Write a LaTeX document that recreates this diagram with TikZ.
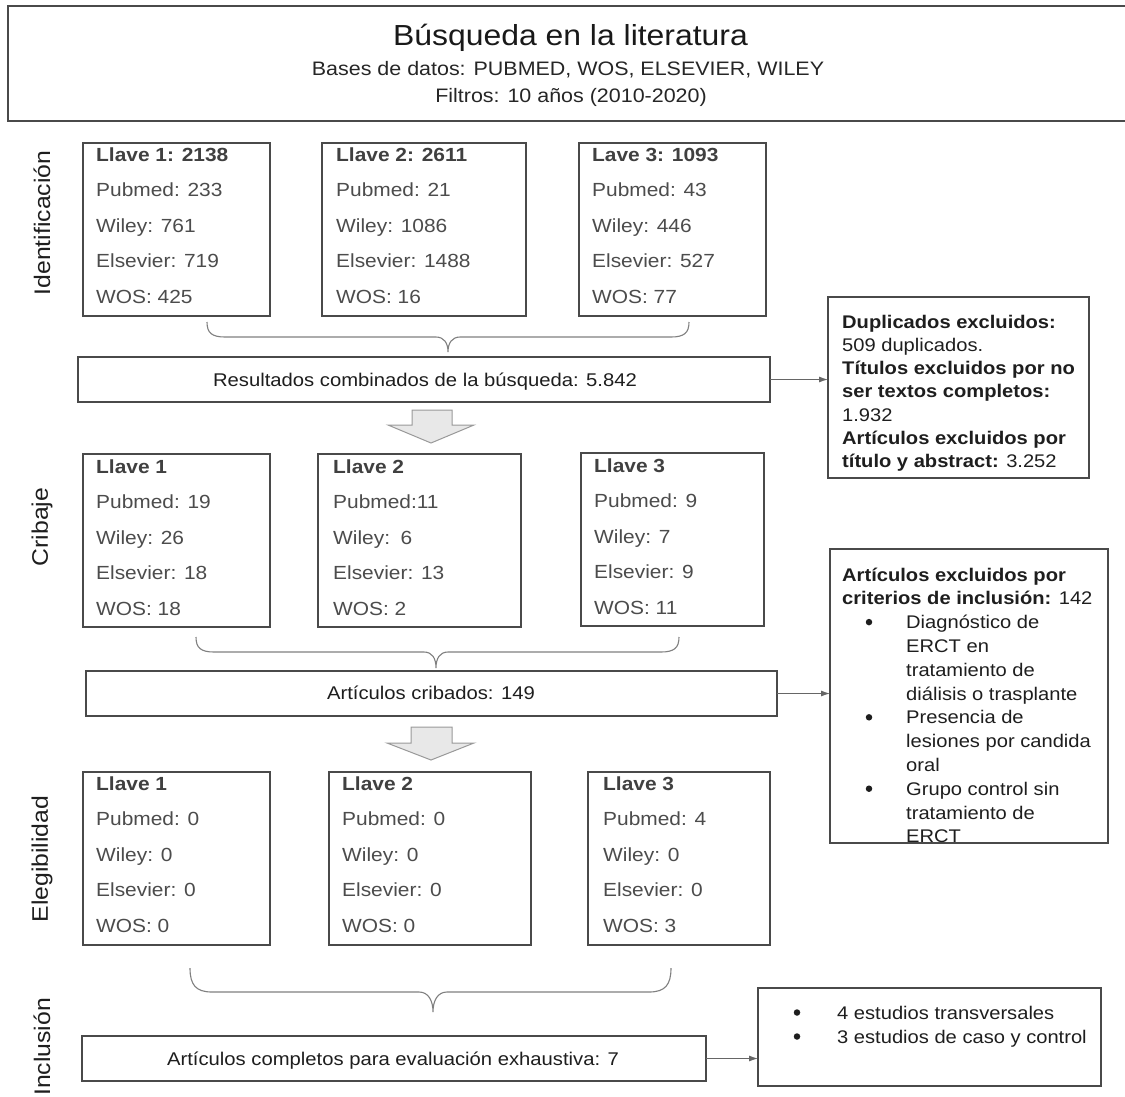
\documentclass[tikz,border=0pt]{standalone}
\usepackage{fontspec}
\setmainfont{Liberation Sans}[FakeStretch=1.1]
\usetikzlibrary{arrows.meta}
\definecolor{boxc}{HTML}{4A4A4A}
\definecolor{txtc}{HTML}{4C4C4C}
\definecolor{hdc}{HTML}{404040}
\definecolor{darkc}{HTML}{1E1E1E}
\newcommand\fs[2]{\fontsize{#1}{#2}\selectfont}
\newcommand\keybox[8]{%
  \node[txt,text=hdc,font=\fs{19}{22}\bfseries] (#1a) at (#2,#3) {#4};
  \node[txt] (#1b) at (#2,#3+35.5) {#5};
  \node[txt] (#1c) at (#2,#3+71) {#6};
  \node[txt] (#1d) at (#2,#3+106.5) {#7};
  \node[txt] (#1e) at (#2,#3+142) {#8};}
\newcommand\mybox[5]{\node[box,minimum width={#4pt-#2pt},minimum height={#5pt-#3pt}] (#1) at (#2,#3) {};}
\begin{document}
\begin{tikzpicture}[x=1pt,y=-1pt,
  box/.style={draw=boxc,line width=1.3pt,inner sep=0pt,outer sep=0pt,anchor=north west},
  txt/.style={anchor=base west,inner sep=0pt,text=txtc,font=\fs{19}{22}},
  stxt/.style={anchor=base west,inner sep=0pt,text=darkc,font=\fs{18.3}{22}},
  ctxt/.style={anchor=base,inner sep=0pt,text=darkc,font=\fs{18.4}{22}},
  side/.style={rotate=90,inner sep=0pt,text=darkc,font=\fs{22.5}{24}},
  bul/.style={circle,fill=darkc,inner sep=0pt,minimum size=6.5pt},
  conn/.style={draw=black!60,line width=1pt,-{Latex[length=9pt,width=6pt]}},
  brace/.style={draw=black!50,line width=1.1pt},
  blk/.style={draw=black!40,fill=black!9,line width=1pt,line join=miter}]
\useasboundingbox (0,0) rectangle (1125,1096);
\fill[white] (0,0) rectangle (1125,1096);

% title
\mybox{tb}{8}{6}{1135}{121}
\node[anchor=base,inner sep=0pt,text=black!90,font=\fs{29}{32}] (title) at (570.5,45) {Búsqueda en la literatura};
\node[anchor=base,inner sep=0pt,text=black!85,font=\fs{19.5}{22}] (sub1) at (568,75) {Bases de datos: PUBMED, WOS, ELSEVIER, WILEY};
\node[anchor=base,inner sep=0pt,text=black!85,font=\fs{19.5}{22}] (sub2) at (571,102) {Filtros: 10 años (2010-2020)};

% side labels
\node[side] (lid) at (42,223) {Identificación};
\node[side] (lcr) at (42,527) {Cribaje};
\node[side] (lel) at (42,859) {Elegibilidad};
\node[side] (lin) at (42,1047) {Inclusión};

% identification
\mybox{i1}{83}{143}{270}{316}
\mybox{i2}{322}{143}{526}{316}
\mybox{i3}{579}{143}{766}{316}
\keybox{ia}{96}{161}{Llave 1: 2138}{Pubmed: 233}{Wiley: 761}{Elsevier: 719}{WOS: 425}
\keybox{ib}{336}{161}{Llave 2: 2611}{Pubmed: 21}{Wiley: 1086}{Elsevier: 1488}{WOS: 16}
\keybox{ic}{592}{161}{Lave 3: 1093}{Pubmed: 43}{Wiley: 446}{Elsevier: 527}{WOS: 77}

\draw[brace] (207,322) .. controls (207,333) and (212,337) .. (225,337) -- (436,337)
  .. controls (444,337) and (448,343) .. (448,352) .. controls (448,343) and (452,337) .. (460,337)
  -- (671,337) .. controls (684,337) and (689,333) .. (689,322);

\mybox{comb}{78}{357}{770}{402}
\node[ctxt] (combt) at (425,386) {Resultados combinados de la búsqueda: 5.842};

\mybox{ex1}{828}{297}{1089}{478}
\foreach \t [count=\k from 0] in {{\bfseries Duplicados excluidos:},{509 duplicados.},{\bfseries Títulos excluidos por no},{\bfseries ser textos completos:},{1.932},{\bfseries Artículos excluidos por},{\textbf{título y abstract:} 3.252}}
  \node[stxt] (exa\k) at (842,328+23.3*\k) {\t};
\draw[conn] (comb.east) -- (comb.east -| ex1.west);

\draw[blk] (412,410) -- (452,410) -- (452,425) -- (474,425) -- (431,443) -- (388,425) -- (412,425) -- cycle;

% screening
\mybox{c1}{83}{454}{270}{627}
\mybox{c2}{318}{454}{521}{627}
\mybox{c3}{581}{453}{764}{626}
\keybox{ca}{96}{473}{Llave 1}{Pubmed: 19}{Wiley: 26}{Elsevier: 18}{WOS: 18}
\keybox{cb}{333}{473}{Llave 2}{Pubmed:11}{Wiley:\hspace{0.55em}6}{Elsevier: 13}{WOS: 2}
\keybox{cc}{594}{472}{Llave 3}{Pubmed: 9}{Wiley: 7}{Elsevier: 9}{WOS: 11}

\draw[brace] (196,637) .. controls (196,648) and (201,652) .. (214,652) -- (424,652)
  .. controls (432,652) and (436,658) .. (436,668) .. controls (436,658) and (440,652) .. (448,652)
  -- (661,652) .. controls (674,652) and (679,648) .. (679,637);

\mybox{crib}{86}{671}{777}{716}
\node[ctxt] (cribt) at (431,699) {Artículos cribados: 149};

\mybox{ex2}{830}{549}{1108}{843}
\node[stxt] (exb0) at (842,581) {\bfseries Artículos excluidos por};
\node[stxt] (exb1) at (842,604.8) {\textbf{criterios de inclusión:} 142};
\foreach \t [count=\k from 2] in {Diagnóstico de,ERCT en,tratamiento de,diálisis o trasplante,Presencia de,lesiones por candida,oral,Grupo control sin,tratamiento de,ERCT}
  \node[stxt] (exb\k) at (906,581+23.8*\k) {\t};
\foreach \k in {2,6,9}
  \node[bul] (bul\k) at (869,581-6.5+23.8*\k) {};
\draw[conn] (crib.east) -- (crib.east -| ex2.west);

\draw[blk] (411,727) -- (452,727) -- (452,743) -- (474,743) -- (431,760) -- (387,743) -- (411,743) -- cycle;

% eligibility
\mybox{e1}{83}{772}{270}{945}
\mybox{e2}{329}{772}{531}{945}
\mybox{e3}{588}{772}{770}{945}
\keybox{ea}{96}{790}{Llave 1}{Pubmed: 0}{Wiley: 0}{Elsevier: 0}{WOS: 0}
\keybox{eb}{342}{790}{Llave 2}{Pubmed: 0}{Wiley: 0}{Elsevier: 0}{WOS: 0}
\keybox{ec}{603}{790}{Llave 3}{Pubmed: 4}{Wiley: 0}{Elsevier: 0}{WOS: 3}

\draw[brace] (190,968) .. controls (190,985) and (196,992) .. (212,992) -- (419,992)
  .. controls (428,992) and (433,1000) .. (433,1012) .. controls (433,1000) and (438,992) .. (447,992)
  -- (649,992) .. controls (665,992) and (671,985) .. (671,968);

% inclusion
\mybox{incl}{82}{1036}{706}{1081}
\node[ctxt] (inclt) at (393,1065) {Artículos completos para evaluación exhaustiva: 7};
\mybox{fin}{758}{988}{1101}{1086}
\node[stxt] (fin1) at (837,1019) {4 estudios transversales};
\node[stxt] (fin2) at (837,1043) {3 estudios de caso y control};
\node[bul] (fb1) at (797,1012.5) {};
\node[bul] (fb2) at (797,1036.5) {};
\draw[conn] (incl.east) -- (incl.east -| fin.west);
\end{tikzpicture}
\end{document}
